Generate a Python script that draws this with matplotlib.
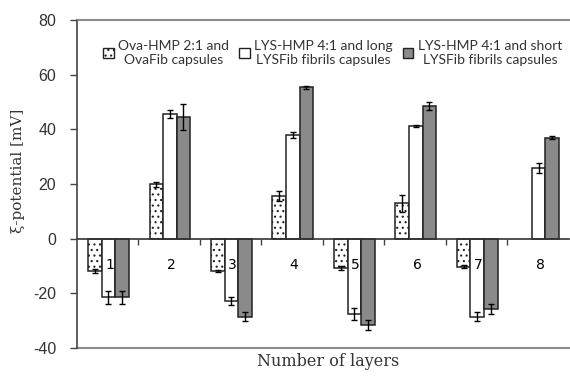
import numpy as np
import matplotlib.pyplot as plt
from matplotlib.patches import Patch

# layers on the x axis
layers = ["1", "2", "3", "4", "5", "6", "7", "8"]

# zeta potential [mV] per capsule type
ova = [-11.7, 19.9, -11.7, 15.6, -10.8, 12.9, -10.2, np.nan]
ova_err = [0.7, 1.0, 0.4, 2.0, 0.7, 3.0, 0.4, np.nan]
lys_long = [-21.5, 45.6, -22.9, 37.9, -27.5, 41.2, -28.5, 25.7]
lys_long_err = [2.4, 1.3, 1.5, 1.0, 2.1, 0.4, 1.5, 1.8]
lys_short = [-21.5, 44.4, -28.5, 55.3, -31.6, 48.6, -25.7, 37.0]
lys_short_err = [2.4, 4.8, 1.5, 0.7, 2.0, 1.4, 1.8, 0.6]

labels = [
    "Ova-HMP 2:1 and\nOvaFib capsules",
    "LYS-HMP 4:1 and long\nLYSFib fibrils capsules",
    "LYS-HMP 4:1 and short\nLYSFib fibrils capsules",
]

serif = ["DejaVu Serif"]
sans_leg = ["Lato", "DejaVu Sans"]
plt.rcParams["hatch.color"] = "#b0b0b0"
plt.rcParams["hatch.linewidth"] = 0.8
plt.rcParams["axes.unicode_minus"] = False

fig = plt.figure(figsize=(5.7, 3.77), dpi=100)
ax = fig.add_axes([0.135, 0.077, 0.863, 0.870])
ax.set_axisbelow(False)

x = np.arange(len(layers))
w = 0.22
ebkw = dict(ecolor="black", elinewidth=1.0, capsize=2.5, capthick=1.0, zorder=2.2)

ax.bar(x - w + 0.01, ova, w, yerr=ova_err, color="white", edgecolor="#222222",
       linewidth=1.1, hatch="...", error_kw=ebkw, zorder=2)
ax.bar(x + 0.01, lys_long, w, yerr=lys_long_err, color="white", edgecolor="#222222",
       linewidth=1.1, error_kw=ebkw, zorder=2)
ax.bar(x + w + 0.01, lys_short, w, yerr=lys_short_err, color="#8a8a8a",
       edgecolor="#222222", linewidth=1.1, error_kw=ebkw, zorder=2)

ax.set_xlim(-0.5, len(layers) - 0.5)
ax.set_ylim(-40, 80)
ax.set_yticks([-40, -20, 0, 20, 40, 60, 80])
ax.set_yticklabels(["-40", "-20", "0", "20", "40", "60", "80"],
                   family=["Liberation Sans"], fontsize=11.5)
ax.tick_params(axis="y", direction="out", length=5, width=1, colors="#444444",
               labelcolor="#333333", pad=10)

# category boundaries as major ticks, category names as minor ticks
ax.set_xticks(np.arange(0.5, len(layers) - 1, 1.0))
ax.set_xticklabels([])
ax.set_xticks(x + 0.03, minor=True)
ax.set_xticklabels(layers, minor=True, fontsize=12, family=serif, color="#333333")
ax.tick_params(axis="x", which="major", direction="out", length=4, width=1,
               colors="#444444")
ax.tick_params(axis="x", which="minor", length=0, pad=14)

ax.spines["bottom"].set_position(("data", 0))
ax.spines["bottom"].set_color("#333333")
ax.spines["bottom"].set_linewidth(1.2)
ax.spines["left"].set_color("#444444")
ax.spines["left"].set_linewidth(1.2)
ax.spines["top"].set_color("#8c8c8c")
ax.spines["top"].set_linewidth(1.5)
ax.spines["right"].set_visible(False)
ax.axhline(-40, color="#8c8c8c", linewidth=1.5, clip_on=False, zorder=1)

ax.set_ylabel("ξ-potential [mV]", fontsize=11, family=serif, color="#333333")
ax.yaxis.set_label_coords(-0.105, 0.54)
fig.text(0.575, 0.04, "Number of layers", fontsize=11.5, family=serif,
         color="#333333", ha="center", va="center")

handles = [
    Patch(facecolor="white", edgecolor="#222222", hatch="...", linewidth=1.0),
    Patch(facecolor="white", edgecolor="#222222", linewidth=1.0),
    Patch(facecolor="#8a8a8a", edgecolor="#222222", linewidth=1.0),
]
leg = ax.legend(handles, labels, ncol=3, loc="upper center",
                bbox_to_anchor=(0.52, 0.965), frameon=False,
                prop={"family": sans_leg, "size": 10},
                handlelength=0.75, handleheight=0.75, handletextpad=0.3,
                columnspacing=0.75, borderaxespad=0.2)
for t in leg.get_texts():
    t.set_multialignment("center")
    t.set_color("#333333")

fig.savefig("out.png", dpi=100)
